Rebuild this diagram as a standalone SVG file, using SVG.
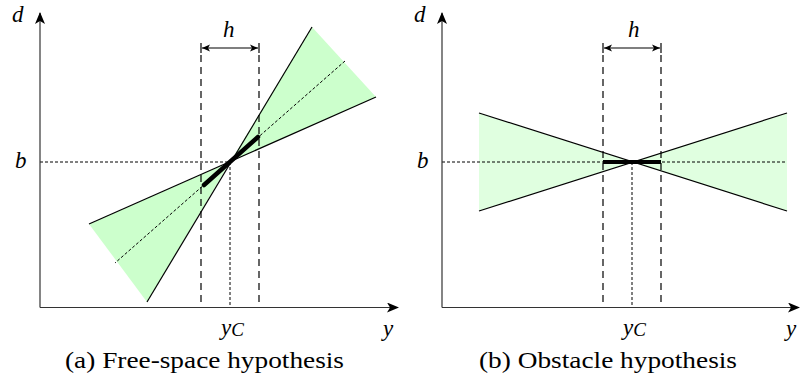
<svg xmlns="http://www.w3.org/2000/svg" width="800" height="383" viewBox="0 0 800 383">
<defs>
<style>
.axis{stroke:#333;stroke-width:1.2;fill:none}
.dash{stroke:#000;stroke-width:1.2;stroke-dasharray:7 5;fill:none}
.dot{stroke:#000;stroke-width:1;stroke-dasharray:3 2;fill:none}
.edge{stroke:#000;stroke-width:1.2;fill:none}
.thick{stroke:#000;stroke-width:4.5;stroke-linecap:round;fill:none}
.thickb{stroke:#000;stroke-width:4;fill:none}
.tick{stroke:#000;stroke-width:1.2}
.math{font-style:italic;font-size:23px;fill:#000}
.cap{font-size:24px;fill:#000}
</style>
<marker id="stealth" viewBox="0 0 12 10" refX="11" refY="5" markerWidth="12" markerHeight="10" markerUnits="userSpaceOnUse" orient="auto">
<path d="M0,0 L12,5 L0,10 L3,5 Z" fill="#000"/>
</marker>
<marker id="harr" viewBox="0 0 8 8" refX="8" refY="4" markerWidth="8" markerHeight="8" markerUnits="userSpaceOnUse" orient="auto-start-reverse">
<path d="M0,0.5 L8,4 L0,7.5 L2,4 Z" fill="#000"/>
</marker>
</defs>

<g id="panel-a">
<g id="cone-a">
<polygon points="312,27 376,97 230,162" fill="#ccffcc"/>
<polygon points="89,224 147,302 230,162" fill="#ccffcc"/>
</g>
<g id="connectors-a">
<line class="dash" x1="201" y1="55" x2="201" y2="307"/>
<line class="dash" x1="259" y1="55" x2="259" y2="307"/>
<line class="dot" x1="40" y1="162" x2="230" y2="162"/>
<line class="dot" x1="230" y1="162" x2="230" y2="307"/>
<line class="dot" x1="345" y1="61" x2="115" y2="263"/>
<line class="edge" x1="312" y1="27" x2="147" y2="302"/>
<line class="edge" x1="376" y1="97" x2="89" y2="224"/>
<line class="thick" x1="204" y1="185" x2="258" y2="137"/>
<line class="tick" x1="201" y1="43" x2="201" y2="53"/>
<line class="tick" x1="259" y1="43" x2="259" y2="53"/>
<line class="edge" x1="202" y1="48" x2="258" y2="48" marker-start="url(#harr)" marker-end="url(#harr)"/>
<line class="axis" x1="40" y1="307.5" x2="40" y2="13" marker-end="url(#stealth)"/>
<line class="axis" x1="40" y1="307.5" x2="398" y2="307.5" marker-end="url(#stealth)"/>
</g>
<g id="labels-a" font-family="Liberation Serif, serif">
<text class="math" x="12" y="22">d</text>
<text class="math" x="15" y="168">b</text>
<text class="math" x="223" y="37">h</text>
<text class="math" x="221" y="335">y<tspan font-size="19" dy="1">C</tspan></text>
<text class="math" x="383" y="336">y</text>
<text class="cap" x="65" y="368" textLength="279" lengthAdjust="spacingAndGlyphs">(a) Free-space hypothesis</text>
</g>
</g>

<g id="panel-b">
<g id="cone-b">
<polygon points="479,113 479,211 632,162" fill="#e0ffe0"/>
<polygon points="787,113 787,211 632,162" fill="#e0ffe0"/>
</g>
<g id="connectors-b">
<line class="dash" x1="603" y1="55" x2="603" y2="307"/>
<line class="dash" x1="661" y1="55" x2="661" y2="307"/>
<line class="dot" x1="442" y1="162" x2="786" y2="162"/>
<line class="dot" x1="632" y1="162" x2="632" y2="307"/>
<line class="edge" x1="479" y1="113" x2="787" y2="211"/>
<line class="edge" x1="479" y1="211" x2="787" y2="113"/>
<line class="thickb" x1="603" y1="162" x2="661" y2="162"/>
<line class="tick" x1="603" y1="43" x2="603" y2="53"/>
<line class="tick" x1="661" y1="43" x2="661" y2="53"/>
<line class="edge" x1="604" y1="48" x2="660" y2="48" marker-start="url(#harr)" marker-end="url(#harr)"/>
<line class="axis" x1="442" y1="307.5" x2="442" y2="13" marker-end="url(#stealth)"/>
<line class="axis" x1="442" y1="307.5" x2="799" y2="307.5" marker-end="url(#stealth)"/>
</g>
<g id="labels-b" font-family="Liberation Serif, serif">
<text class="math" x="414" y="22">d</text>
<text class="math" x="417" y="168">b</text>
<text class="math" x="628" y="37">h</text>
<text class="math" x="623" y="335">y<tspan font-size="19" dy="1">C</tspan></text>
<text class="math" x="786" y="336">y</text>
<text class="cap" x="479" y="368" textLength="258" lengthAdjust="spacingAndGlyphs">(b) Obstacle hypothesis</text>
</g>
</g>
</svg>
